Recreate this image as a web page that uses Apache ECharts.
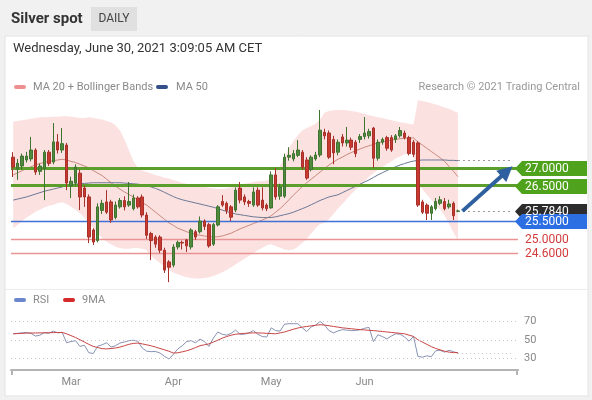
<!DOCTYPE html>
<html><head><meta charset="utf-8">
<script src="https://cdn.jsdelivr.net/npm/echarts/dist/echarts.min.js"></script>
<style>html,body{margin:0;padding:0;background:#f1f1f1}#c{width:592px;height:400px}</style>
</head><body><div id="c"></div>
<script>
// ---- categories (trading days) ----
const monthNames = ['Feb','Mar','Apr','May','Jun','Jul'];
const tradingDays = [
  [10,11,12,15,16,17,18,19,22,23,24,25,26],
  [1,2,3,4,5,8,9,10,11,12,15,16,17,18,19,22,23,24,25,26,29,30,31],
  [1,2,5,6,7,8,9,12,13,14,15,16,19,20,21,22,23,26,27,28,29,30],
  [3,4,5,6,7,10,11,12,13,14,17,18,19,20,21,24,25,26,27,28,31],
  [1,2,3,4,7,8,9,10,11,14,15,16,17,18,21,22,23,24,25,28,29,30],
  [1,2,5,6,7,8,9,12,13,14,15,16,19]
];
const monthTicks = ['Mar 1','Apr 1','May 3','Jun 1'];

// ---- price candles [open, close, low, high] ----
const ohlc = [
[27.30,27.02,26.74,27.44],[26.96,27.13,26.66,27.25],[27.05,27.33,26.95,27.40],[27.22,27.33,27.15,27.45],
[27.25,27.50,27.18,27.87],[27.50,26.88,26.80,27.55],[26.90,27.05,26.80,27.12],[26.98,27.44,26.09,27.50],
[27.44,27.12,27.05,27.50],[27.16,27.73,27.10,28.26],[27.73,27.50,27.40,27.95],[27.50,27.68,27.42,28.12],
[27.64,26.57,26.37,27.70],[26.50,26.62,26.15,26.75],[26.57,27.02,26.50,27.10],[26.85,26.18,25.81,26.95],
[26.43,26.18,25.90,26.50],[26.18,25.05,24.88,26.25],[25.25,24.91,24.83,25.30],[24.95,25.90,24.90,26.00],
[25.80,26.00,25.70,26.10],[26.04,25.75,25.70,26.37],[26.04,25.53,25.45,26.10],[25.60,25.95,25.55,26.05],
[25.90,26.08,25.85,26.15],[26.08,25.90,25.80,26.20],[25.95,26.05,25.90,26.60],[25.85,26.15,25.80,26.25],
[26.15,25.90,25.85,26.20],[26.18,25.67,25.60,26.25],[25.67,25.10,25.00,25.75],[25.15,24.95,24.40,25.20],
[25.05,24.85,24.75,25.10],[25.05,24.68,24.60,25.10],[24.68,24.12,24.04,24.75],[24.35,24.20,23.78,24.40],
[24.26,24.77,24.20,24.85],[24.77,24.90,24.70,24.95],[24.90,24.88,24.70,24.95],[24.97,24.80,24.63,25.00],
[24.77,25.25,24.70,25.30],[25.20,25.05,24.97,25.25],[25.20,25.50,25.15,25.63],[25.50,25.35,25.25,25.55],
[25.40,24.80,24.75,25.45],[24.85,25.40,24.80,25.45],[25.39,25.90,25.35,25.95],[26.05,25.95,25.90,26.23],
[26.00,25.80,25.70,26.05],[25.90,25.61,25.50,25.95],[25.81,26.37,25.75,26.45],[26.43,26.09,26.00,26.60],
[26.18,26.04,25.95,26.25],[26.05,26.00,25.90,26.10],[25.95,26.32,25.90,26.45],[26.37,25.95,25.90,26.45],
[26.09,25.87,25.80,26.45],[25.95,25.85,25.78,26.00],[25.87,26.80,25.85,26.90],[26.80,26.18,26.10,27.00],
[26.20,26.46,26.10,26.55],[26.20,27.30,26.15,27.40],[27.30,27.35,27.20,27.58],[27.25,27.40,27.18,27.50],
[27.35,27.50,27.30,27.78],[27.44,27.02,26.95,27.50],[27.22,26.71,26.66,27.30],[26.95,27.30,26.90,27.35],
[27.25,27.36,27.20,27.45],[27.36,28.06,27.30,28.63],[28.00,27.90,27.80,28.10],[27.98,27.30,27.25,28.05],
[27.80,27.42,27.10,27.90],[27.44,27.72,27.35,27.80],[27.87,27.70,27.60,27.95],[27.70,27.78,27.60,28.15],
[27.78,27.58,27.50,27.85],[27.72,27.40,27.30,27.78],[27.80,27.88,27.70,27.95],[27.88,27.98,27.80,28.43],
[27.90,28.02,27.82,28.10],[28.12,27.27,27.00,28.15],[27.27,27.72,27.20,27.80],[27.72,27.80,27.65,27.85],
[27.85,27.55,27.48,27.90],[27.85,27.50,27.45,27.92],[27.80,27.90,27.70,27.95],[27.90,28.05,27.85,28.15],
[27.98,27.85,27.80,28.05],[27.85,27.40,27.35,27.90],[27.72,27.38,27.30,27.78],[27.70,25.95,25.90,27.75],
[26.04,25.75,25.70,26.10],[25.95,25.72,25.53,26.00],[25.72,25.90,25.53,25.95],[25.85,26.05,25.80,26.15],
[26.00,26.10,25.95,26.20],[26.05,25.85,25.80,26.15],[25.90,25.98,25.85,26.10],[26.00,25.65,25.53,26.05],
[25.78,25.784,25.75,25.82]
];

const bbUpper = [28.30,28.32,28.34,28.36,28.38,28.40,28.42,28.42,28.43,28.44,28.44,28.45,
 28.45,28.44,28.42,28.40,28.40,28.42,28.40,28.38,28.36,
 28.32,28.28,28.20,28.05,27.80,27.50,27.20,27.00,
 26.92,26.88,26.84,26.80,26.76,26.72,26.70,26.66,26.62,26.58,26.55,26.52,
 26.50,26.48,26.46,26.44,26.42,26.40,26.40,26.42,26.45,26.48,
 26.52,26.55,26.57,26.60,26.62,26.63,26.64,26.70,26.90,27.05,
 27.30,27.55,27.75,27.92,28.05,28.12,28.18,28.25,28.35,28.55,
 28.60,28.62,28.63,28.63,28.62,28.60,28.58,28.55,28.52,28.48,
 28.45,28.42,28.40,28.37,28.34,28.31,28.28,28.26,28.24,28.22,
 28.90,28.88,28.85,28.82,28.78,28.74,28.70,28.66,28.60,28.55];
const bbLower = [25.30,25.40,25.50,25.60,25.68,25.76,25.82,25.88,25.93,25.96,26.00,26.03,
 25.98,25.90,25.82,25.72,25.60,25.45,25.30,25.15,25.02,
 24.92,24.85,24.78,24.74,24.72,24.72,24.74,24.74,24.72,24.68,
 24.52,24.42,24.32,24.22,24.12,24.05,24.00,23.96,23.92,23.90,
 23.88,23.88,23.90,23.92,23.95,24.00,24.06,24.12,24.20,24.28,
 24.36,24.44,24.52,24.60,24.68,24.75,24.82,24.85,24.80,24.75,
 24.70,24.68,24.70,24.78,24.88,25.00,25.15,25.30,25.42,25.45,
 25.55,25.70,25.85,25.98,26.12,26.26,26.38,26.50,26.62,26.75,
 26.85,26.95,27.02,27.10,27.18,27.26,27.32,27.38,27.42,27.46,
 26.55,26.40,26.25,26.10,25.96,25.82,25.66,25.42,25.18,24.95];
const ma20 = [26.80,26.86,26.92,26.98,27.03,27.08,27.12,27.15,27.18,27.20,27.22,27.24,
 27.22,27.18,27.15,27.10,27.05,27.00,26.92,26.85,26.78,
 26.68,26.58,26.48,26.40,26.32,26.25,26.18,26.10,26.02,25.95,
 25.85,25.75,25.65,25.55,25.45,25.38,25.30,25.25,25.20,25.16,
 25.12,25.10,25.08,25.06,25.05,25.06,25.08,25.12,25.16,25.22,
 25.28,25.33,25.38,25.43,25.48,25.53,25.58,25.65,25.75,25.85,
 25.97,26.10,26.23,26.35,26.47,26.58,26.68,26.78,26.88,26.98,
 27.08,27.16,27.24,27.30,27.37,27.43,27.48,27.53,27.58,27.62,
 27.66,27.70,27.73,27.76,27.78,27.80,27.82,27.83,27.84,27.84,
 27.73,27.64,27.55,27.46,27.37,27.28,27.18,27.04,26.90,26.75];
const ma50 = [26.09,26.12,26.15,26.18,26.22,26.26,26.30,26.34,26.37,26.40,26.43,
 26.46,26.50,26.52,26.54,26.55,26.56,26.57,26.58,26.58,26.58,
 26.58,26.58,26.58,26.58,26.57,26.56,26.55,26.54,26.52,26.50,
 26.46,26.42,26.37,26.31,26.25,26.19,26.14,26.10,26.07,26.04,
 26.01,25.98,25.95,25.92,25.89,25.85,25.81,25.77,25.73,25.70,
 25.68,25.66,25.64,25.62,25.61,25.60,25.60,25.60,25.62,25.65,
 25.68,25.71,25.75,25.80,25.85,25.90,25.96,26.02,26.08,26.13,
 26.18,26.21,26.24,26.30,26.36,26.42,26.48,26.54,26.60,26.66,
 26.73,26.80,26.86,26.92,26.98,27.03,27.08,27.12,27.16,27.19,
 27.21,27.22,27.22,27.22,27.22,27.22,27.22,27.21,27.21,27.20];

const rsi = [56.5,57,57.5,58,57,54,55,57.6,57,59.5,57.5,58,
 46.7,48,49,42.7,44,35.8,35,43,44.5,
 46.7,42,43.5,46.5,47.5,49,49.5,48.5,41,37.5,
 37,37.2,35.5,32,29,34,40,43.4,48,49,
 46.7,50.7,48,42.7,51.8,58.5,56,55,57,60.5,
 56,56,57.5,60,56,53.5,53,63,60,59.5,
 67,67.5,67.5,67.5,63,59,64,66,70,66,
 60,57.5,59.5,61,60.5,60,60,61,62.5,63.5,
 48,55.5,53.5,51,54,56.5,56,53,48.5,53.6,
 31.8,31,32.5,31.5,38,38.5,36.5,38.5,37,35.3];
const rsiMA9 = [56.5,56.7,57,57.2,57.3,57.4,57.5,57.6,57.7,57.8,57.9,58,
 56.5,54.5,52.5,50,47.5,45,42.7,41.5,40.3,
 40,40.5,41,42,43.5,45,46,46.4,45.5,44.5,
 43.4,42,40.5,39,37.5,35.5,35.8,36.8,38,39.5,
 41.5,43.5,44.5,45.5,47.5,49.5,51.8,53.5,55,56,
 56.5,57,57.3,57.5,57.5,57.3,57,56.8,56.5,57.5,
 58.5,60,61.5,62.8,63.8,64.5,65.2,65.8,66.4,66,
 65.3,64.5,63.8,63,62.5,62,61.5,61,60.7,60.3,
 60,59.5,59,58.5,58,57.5,57,56.5,55,53.6,
 50,47.5,45,42.5,40.5,39,37.5,36.5,36,36];

// ---- levels ----
const resistance = [27.0, 26.5];
const pivot = 25.5;
const supports = [25.0, 24.6];
const lastPrice = 25.784;
const ma50Last = 27.20;
const rsiLevels = [70, 50, 30];
const rsiLast = 35.3;
const arrowFrom = [101, 25.78];
const arrowTo = [111, 26.9];

// ---- build ----
const categories = [];
monthNames.forEach((m, k) => tradingDays[k].forEach(d => categories.push(m + ' ' + d)));
const bbWidth = bbUpper.map((u, i) => +(u - bbLower[i]).toFixed(3));
const lastIdx = ohlc.length - 1;
const endIdx = categories.length - 1;
const FONT = 'Roboto, "Open Sans", "DejaVu Sans", sans-serif';

const chart = echarts.init(document.getElementById('c'), null, {renderer: 'canvas', width: 592, height: 400});

const levelLines = [];
resistance.forEach(v => levelLines.push({yAxis: v, lineStyle: {color: '#5b9e2b', width: 3, type: 'solid'}}));
levelLines.push({yAxis: pivot, lineStyle: {color: '#3f72d4', width: 1.3, type: 'solid'}});
supports.forEach(v => levelLines.push({yAxis: v, lineStyle: {color: '#e99494', width: 1.3, type: 'solid'}}));

chart.setOption({
  animation: false,
  backgroundColor: '#f1f1f1',
  grid: [
    {left: 11, width: 507, top: 95, height: 190},
    {left: 11, width: 507, top: 304, height: 66}
  ],
  xAxis: [
    {type: 'category', gridIndex: 0, data: categories, boundaryGap: true, show: false},
    {type: 'category', gridIndex: 1, data: categories, boundaryGap: true,
      axisLine: {lineStyle: {color: '#b4b4b4', width: 2}}, axisTick: {show: false}, splitLine: {show: false},
      axisLabel: {interval: (i, v) => monthTicks.includes(v), formatter: v => v.split(' ')[0],
        color: '#888', fontSize: 11, margin: 7, fontFamily: FONT}}
  ],
  yAxis: [
    {type: 'value', gridIndex: 0, min: 23.7, max: 29.05, show: false, splitLine: {show: false}},
    {type: 'value', gridIndex: 1, min: 17, max: 89, show: false, splitLine: {show: false}}
  ],
  series: [
    {type: 'line', name: 'bbLow', data: bbLower, stack: 'bb', symbol: 'none', silent: true,
      lineStyle: {opacity: 0}, z: 1},
    {type: 'line', name: 'bbBand', data: bbWidth, stack: 'bb', symbol: 'none', silent: true,
      lineStyle: {opacity: 0}, areaStyle: {color: 'rgba(249,196,196,0.5)', opacity: 1}, z: 1},
    {type: 'line', name: 'MA 20', data: ma20, symbol: 'none', silent: true,
      lineStyle: {color: '#c98a7c', width: 1}, z: 3},
    {type: 'line', name: 'MA 50', data: ma50, symbol: 'none', silent: true,
      lineStyle: {color: '#6b7895', width: 1}, z: 3,
      markLine: {silent: true, symbol: ['none', 'none'], label: {show: false},
        lineStyle: {color: '#9a9a9a', width: 1, type: [2, 3]},
        data: [
          [{coord: [lastIdx, ma50Last]}, {coord: [endIdx - 1, ma50Last]}],
          [{coord: [lastIdx, lastPrice]}, {coord: [endIdx - 1, lastPrice]}]
        ]}},
    {type: 'candlestick', name: 'price', data: ohlc, barWidth: 3, z: 5,
      itemStyle: {color: '#4f8a3d', color0: '#c83a30', borderColor: '#3e7330', borderColor0: '#a8302a', borderWidth: 1},
      markLine: {silent: true, symbol: ['none', 'none'], label: {show: false}, data: levelLines}},
    {type: 'line', name: 'arrow', data: [], symbol: 'none', silent: true, z: 8,
      markLine: {silent: true, symbol: ['none', 'triangle'], symbolSize: 15, label: {show: false},
        lineStyle: {color: '#2e5f9e', width: 4, type: 'solid'},
        itemStyle: {color: '#2e5f9e'},
        data: [[{coord: arrowFrom}, {coord: arrowTo}]]}},
    {type: 'line', name: 'RSI', xAxisIndex: 1, yAxisIndex: 1, data: rsi, symbol: 'none', silent: true,
      lineStyle: {color: '#8893b3', width: 1}, z: 3,
      markLine: {silent: true, symbol: ['none', 'none'],
        lineStyle: {color: '#c6c6c6', width: 1, type: [1, 3]},
        data: rsiLevels.map(v => ({yAxis: v, label: {show: true, position: 'end', formatter: String(v),
          color: '#888', fontSize: 11, fontFamily: FONT, distance: 6}})).concat([
          [{coord: [lastIdx, rsiLast], label: {show: false}}, {coord: [endIdx - 1, rsiLast]}]
        ])}},
    {type: 'line', name: '9MA', xAxisIndex: 1, yAxisIndex: 1, data: rsiMA9, symbol: 'none', silent: true,
      lineStyle: {color: '#c94545', width: 1}, z: 4}
  ]
});

// ---- decorations ----
const py = v => chart.convertToPixel({yAxisIndex: 0}, v);
const txt = (x, y, text, size, color, extra) => Object.assign({type: 'text', x: x, y: y, z: 50,
  style: Object.assign({text: text, fill: color, fontSize: size, fontFamily: FONT, verticalAlign: 'middle', textVerticalAlign: 'middle'}, extra || {})});
const tag = (v, color, label) => {
  const y = Math.round(py(v)) + 0.5;
  return [
    {type: 'polygon', z: 60, shape: {points: [[515, y], [522, y - 7.5], [587, y - 7.5], [587, y + 7.5], [522, y + 7.5]]}, style: {fill: color}},
    Object.assign(txt(525, y, label, 12, '#fff'), {z: 61})
  ];
};
const g = [
  {type: 'rect', z: -5, shape: {x: 5, y: 36, width: 583, height: 360}, style: {fill: '#ffffff', stroke: '#e3e3e3', lineWidth: 1}},
  {type: 'line', z: -4, shape: {x1: 5, y1: 289.5, x2: 588, y2: 289.5}, style: {stroke: '#ececec', lineWidth: 1}},
  txt(11, 19, 'Silver spot', 15, '#333', {fontWeight: 'bold'}),
  {type: 'rect', z: -4, shape: {x: 91, y: 7, width: 46, height: 24}, style: {fill: '#e0e0e0'}},
  txt(114, 19, 'DAILY', 12, '#444', {align: 'center', textAlign: 'center'}),
  txt(13, 49, 'Wednesday, June 30, 2021 3:09:05 AM CET', 13, '#333'),
  {type: 'rect', z: 50, shape: {x: 14, y: 85, width: 12, height: 4, r: 2}, style: {fill: '#ee9090'}},
  txt(33, 87, 'MA 20 + Bollinger Bands', 11, '#8a8a8a'),
  {type: 'rect', z: 50, shape: {x: 156, y: 85, width: 12, height: 4, r: 2}, style: {fill: '#34508a'}},
  txt(176, 87, 'MA 50', 11, '#8a8a8a'),
  txt(580, 87, 'Research © 2021 Trading Central', 11, '#999', {align: 'right', textAlign: 'right'}),
  {type: 'rect', z: 50, shape: {x: 14, y: 298, width: 12, height: 4, r: 2}, style: {fill: '#6a86cc'}},
  txt(33, 300, 'RSI', 11, '#8a8a8a'),
  {type: 'rect', z: 50, shape: {x: 63, y: 298, width: 12, height: 4, r: 2}, style: {fill: '#d42a2a'}},
  txt(82, 300, '9MA', 11, '#8a8a8a'),
  {type: 'line', z: 50, shape: {x1: 12, y1: 370, x2: 12, y2: 375}, style: {stroke: '#b4b4b4', lineWidth: 2}},
  {type: 'line', z: 50, shape: {x1: 517, y1: 370, x2: 517, y2: 375}, style: {stroke: '#b4b4b4', lineWidth: 2}}
];
resistance.forEach(v => g.push(...tag(v, '#4fa21b', v.toFixed(4))));
g.push(...tag(lastPrice, '#2c2c2c', lastPrice.toFixed(4)));
g.push(...tag(pivot, '#2b6fe3', pivot.toFixed(4)));
supports.forEach(v => g.push(txt(525, Math.round(py(v)) + 0.5, v.toFixed(4), 12, '#d23b3b')));
chart.setOption({graphic: g});
</script>
</body></html>
